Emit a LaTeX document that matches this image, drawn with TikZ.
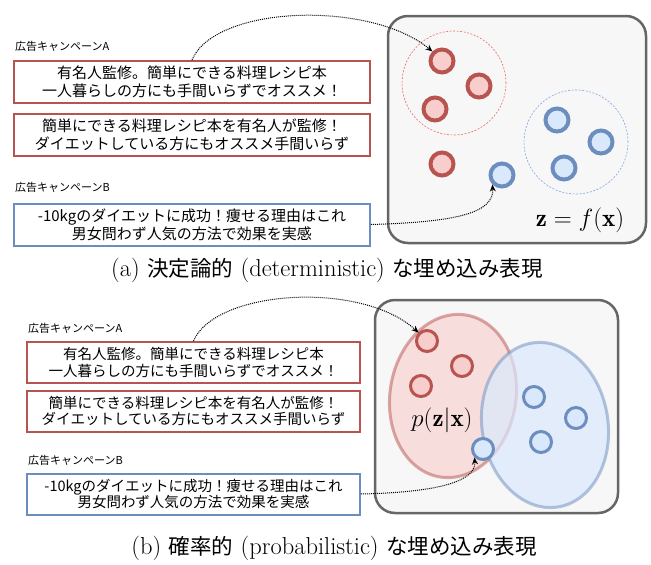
\documentclass[tikz,border=0pt]{standalone}
\usepackage{fontspec}
\newfontfamily\jp{Noto Sans CJK JP}
\usetikzlibrary{arrows.meta}
\definecolor{redS}{HTML}{B85450}
\definecolor{redF}{HTML}{F8CECC}
\definecolor{blueS}{HTML}{6C8EBF}
\definecolor{blueF}{HTML}{DAE8FC}
\definecolor{panelS}{HTML}{666666}
\definecolor{panelF}{HTML}{F7F7F7}
\definecolor{redD}{HTML}{EA6B66}
\definecolor{blueD}{HTML}{7EA6E0}
\tikzset{
  adbox/.style={draw, line width=2pt, fill=white, align=center, inner sep=0pt,
    minimum height=42pt, font=\jp\fontsize{15}{18}\selectfont},
  adboxs/.style={draw, line width=2pt, fill=white, align=center, inner sep=0pt,
    minimum height=41pt, font=\jp\fontsize{14.5}{16.5}\selectfont},
  adlabel/.style={anchor=west, inner sep=0pt, font=\jp\fontsize{11}{13}\selectfont},
  panel/.style={draw=panelS, fill=panelF, line width=2.5pt, rounded corners=20pt, inner sep=0pt},
  redpt/.style={circle, draw=redS, fill=redF, line width=4pt, minimum size=23pt, inner sep=0pt},
  bluept/.style={circle, draw=blueS, fill=blueF, line width=4pt, minimum size=23pt, inner sep=0pt},
  redpts/.style={circle, draw=redS, fill=redF, line width=3pt, minimum size=21pt, inner sep=0pt},
  bluepts/.style={circle, draw=blueS, fill=blueF, line width=3pt, minimum size=21pt, inner sep=0pt},
  conn/.style={line width=1pt, dash pattern=on 1pt off 1pt, -{Stealth[length=7pt,width=6pt]}},
  caption/.style={inner sep=0pt, font=\fontsize{24.5}{29}\selectfont},
}
\newcommand{\jc}[1]{{\jp\fontsize{21.5}{26}\selectfont #1}}
\begin{document}
\begin{tikzpicture}[x=1pt,y=-1pt]
\useasboundingbox (0,0) rectangle (651,565);
% ---------- (a) ----------
\node[adlabel] (la) at (15,46) {広告キャンペーンA};
\node[adbox, draw=redS, minimum width=356pt] (ta1) at (192,82) {有名人監修。簡単にできる料理レシピ本\\一人暮らしの方にも手間いらずでオススメ！};
\node[adbox, draw=redS, minimum width=356pt] (ta2) at (192,135) {簡単にできる料理レシピ本を有名人が監修！\\ダイエットしている方にもオススメ手間いらず};
\node[adlabel] (lb) at (15,187) {広告キャンペーンB};
\node[adbox, draw=blueS, minimum width=356pt] (tb) at (192,224.5) {-10kgのダイエットに成功！痩せる理由はこれ\\男女問わず人気の方法で効果を実感};
\node[panel, minimum width=258pt, minimum height=227pt] (tp) at (517,129.5) {};
\node[circle, draw=redD, dash pattern=on 2pt off 1.5pt, line width=0.6pt, minimum size=104pt, inner sep=0pt] (tgr) at (454,83) {};
\node[circle, draw=blueD, dash pattern=on 2pt off 1.5pt, line width=0.6pt, minimum size=104pt, inner sep=0pt] (tgb) at (576,142) {};
\node[redpt] (tr1) at (442,61) {};
\node[redpt] (tr2) at (479,86) {};
\node[redpt] (tr3) at (435,109) {};
\node[redpt] (tr4) at (442,164) {};
\node[bluept] (tb1) at (557,120) {};
\node[bluept] (tb2) at (601,142) {};
\node[bluept] (tb3) at (564,168) {};
\node[bluept] (tb4) at (502,175) {};
\node[inner sep=0pt, font=\fontsize{25}{30}\selectfont] (zf) at (580,220) {$\mathbf{z}=f(\mathbf{x})$};
\draw[conn] (ta1.north) .. controls (215,5) and (370,0) .. (tr1.north west);
\draw[conn] (tb.east) .. controls (460,222) and (494,212) .. (tb4.south west);
\node[caption] (capa) at (327,270) {(a) \jc{決定論的} (deterministic) \jc{な埋め込み表現}};
% ---------- (b) ----------
\node[adlabel] (la2) at (28,328) {広告キャンペーンA};
\node[adboxs, draw=redS, minimum width=333pt] (ba1) at (193.5,362.5) {有名人監修。簡単にできる料理レシピ本\\一人暮らしの方にも手間いらずでオススメ！};
\node[adboxs, draw=redS, minimum width=333pt] (ba2) at (193.5,411) {簡単にできる料理レシピ本を有名人が監修！\\ダイエットしている方にもオススメ手間いらず};
\node[adlabel] (lb2) at (28,460) {広告キャンペーンB};
\node[adboxs, draw=blueS, minimum width=333pt] (bb) at (193.5,494) {-10kgのダイエットに成功！痩せる理由はこれ\\男女問わず人気の方法で効果を実感};
\node[panel, minimum width=243pt, minimum height=213pt] (bp) at (496.5,406.5) {};
\draw[draw=redS, fill=redF, line width=3pt, draw opacity=0.5, fill opacity=0.6]
  (453,396) ellipse [x radius=63pt, y radius=82pt, rotate=-9];
\draw[draw=blueS, fill=blueF, line width=3pt, draw opacity=0.5, fill opacity=0.7]
  (545,425) ellipse [x radius=63pt, y radius=83pt, rotate=9];
\node[inner sep=0pt, font=\fontsize{25}{30}\selectfont] (pz) at (442,420) {$p(\mathbf{z}|\mathbf{x})$};
\node[redpts] (br1) at (427,341) {};
\node[redpts] (br2) at (462,366) {};
\node[redpts] (br3) at (421,386) {};
\node[bluepts] (bb1) at (534,397) {};
\node[bluepts] (bb2) at (576,418) {};
\node[bluepts] (bb3) at (541,442) {};
\node[bluepts] (bb4) at (483,449) {};
\draw[conn] (ba1.north) .. controls (215,290) and (360,280) .. (br1.north west);
\draw[conn] (bb.east) .. controls (450,492) and (476,478) .. (bb4.south west);
\node[caption] (capb) at (334,548) {(b) \jc{確率的} (probabilistic) \jc{な埋め込み表現}};
\end{tikzpicture}
\end{document}
